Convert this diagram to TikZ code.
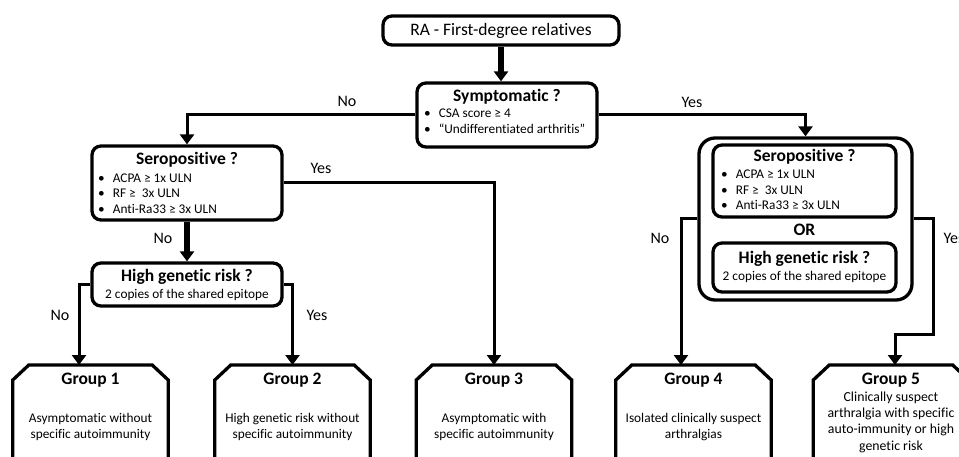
\documentclass[tikz,border=0pt]{standalone}
\usepackage{fontspec}
\setmainfont{Carlito}[Ligatures=NoCommon]
\usetikzlibrary{positioning,arrows.meta}

\tikzset{
  qbox/.style={draw, line width=3.3pt, rounded corners=9pt, inner sep=0pt},
  groupbox/.style={minimum width=155pt, minimum height=200pt, inner sep=0pt, anchor=north},
  gline/.style={line width=3.3pt, line join=miter},
  ttl/.style={font=\fontsize{17.5}{20}\selectfont\bfseries},
  bullets/.style={font=\fontsize{13.3}{15.7}\selectfont, align=left, anchor=west, inner sep=0pt},
  body/.style={font=\fontsize{13.3}{15.5}\selectfont, align=center},
  lbl/.style={font=\fontsize{16}{18}\selectfont},
  link/.style={line width=3pt},
  bold link/.style={line width=5.5pt},
}
\newcommand{\bul}{\textbullet\hspace{8pt}}

\begin{document}
\begin{tikzpicture}[x=1pt,y=-1pt,>={Triangle[width=14pt,length=10pt]}]
\useasboundingbox (0,0) rectangle (959,457);
\clip (0,0) rectangle (959,457);

\node[qbox, minimum width=236pt, minimum height=29pt, font=\fontsize{17.5}{20}\selectfont] (top) at (501,30.5) {RA - First-degree relatives};

\node[qbox, minimum width=180pt, minimum height=64pt] (sym) at (507,115) {};
\node[ttl] (symt) at (507,97) {Symptomatic ?};
\node[bullets] (syml) at (424,121.5) {\bul CSA score ≥ 4\\ \bul “Undifferentiated arthritis”};

\node[qbox, minimum width=190pt, minimum height=74pt] (serol) at (187,183) {};
\node[ttl] (serolt) at (187,160) {Seropositive ?};
\node[bullets] (serolb) at (98,193.5) {\bul ACPA ≥ 1x ULN\\ \bul RF ≥~ 3x ULN\\ \bul Anti-Ra33 ≥ 3x ULN};

\node[qbox, minimum width=190pt, minimum height=43pt] (hgrl) at (187,284.5) {};
\node[ttl] (hgrlt) at (187,277) {High genetic risk ?};
\node[body] (hgrls) at (187,294.5) {2 copies of the shared epitope};

\node[qbox, rounded corners=16pt, minimum width=213pt, minimum height=162pt] (outr) at (805.5,219) {};
\node[qbox, minimum width=183pt, minimum height=72pt] (seror) at (804.5,181) {};
\node[ttl] (serort) at (804.5,157) {Seropositive ?};
\node[bullets] (serorb) at (721,190) {\bul ACPA ≥ 1x ULN\\ \bul RF ≥~ 3x ULN\\ \bul Anti-Ra33 ≥ 3x ULN};
\node[ttl] (or) at (804.5,230) {OR};
\node[qbox, minimum width=183pt, minimum height=49pt] (hgrr) at (804.5,267.5) {};
\node[ttl] (hgrrt) at (804.5,259) {High genetic risk ?};
\node[body] (hgrrs) at (804.5,277) {2 copies of the shared epitope};

\node[groupbox] (g1) at (90.5,365) {};
\node[groupbox] (g2) at (292.5,365) {};
\node[groupbox] (g3) at (494,365) {};
\node[groupbox] (g4) at (693.5,365) {};
\node[groupbox] (g5) at (891,365) {};
\foreach \g in {g1,g2,g3,g4,g5}
  \draw[gline] (\g.south west) -- ([yshift=-15pt]\g.north west) -- ([xshift=16pt]\g.north west)
    -- ([xshift=-16pt]\g.north east) -- ([yshift=-15pt]\g.north east) -- (\g.south east);

\node[ttl] (g1t) at (90.5,380) {Group 1};
\node[body] (g1b) at (90.5,427) {Asymptomatic without\\specific autoimmunity};
\node[ttl] (g2t) at (292.5,380) {Group 2};
\node[body] (g2b) at (292.5,427) {High genetic risk without\\specific autoimmunity};
\node[ttl] (g3t) at (494,380) {Group 3};
\node[body] (g3b) at (494,427) {Asymptomatic with\\specific autoimmunity};
\node[ttl] (g4t) at (693.5,380) {Group 4};
\node[body] (g4b) at (693.5,427) {Isolated clinically suspect\\arthralgias};
\node[ttl] (g5t) at (891,380) {Group 5};
\node[body, font=\fontsize{13.8}{16.3}\selectfont] (g5b) at (891,422) {Clinically suspect\\arthralgia with specific\\auto-immunity or high\\genetic risk};

\coordinate (g1in) at (79,365);
\coordinate (g4in) at (681,365);
\coordinate (g5in) at (895,365);
\coordinate (bend5) at (933,334);

\draw[bold link,->] (top.south) -- (top.south |- sym.north);
\draw[link,->] (sym.west) -| (serol.north);
\draw[link,->] (sym.east) -| (outr.north);
\draw[link,->] (serol.east) -| (g3.north);
\draw[bold link,->] (serol.south) -- (hgrl.north);
\draw[link,->] (hgrl.west) -| (g1in);
\draw[link,->] (hgrl.east) -| (g2.north);
\draw[link,->] (outr.west) -| (g4in);
\draw[link,->] (outr.east) -| (bend5) -| (g5in);

\node[lbl] (no1) at (347,101) {No};
\node[lbl] (yes1) at (692,102) {Yes};
\node[lbl] (yes2) at (321,168) {Yes};
\node[lbl] (no2) at (163,238) {No};
\node[lbl] (no3) at (60,315) {No};
\node[lbl] (yes3) at (317,315) {Yes};
\node[lbl] (no4) at (660,238) {No};
\node[lbl] (yes4) at (954,238) {Yes};
\end{tikzpicture}
\end{document}
